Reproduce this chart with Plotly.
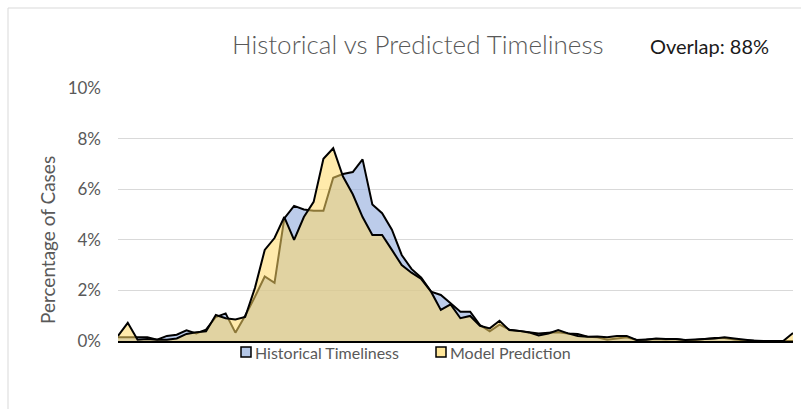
import plotly.graph_objects as go

# Timeliness bins (no labels shown on the x axis)
bins = list(range(70))

historical = [0.15, 0.15, 0.15, 0.15, 0.05, 0.20, 0.25, 0.42, 0.30, 0.45,
              0.95, 1.09, 0.33, 1.00, 1.75, 2.55, 2.30, 4.85, 5.34, 5.20,
              5.15, 5.15, 6.45, 6.60, 6.68, 7.18, 5.40, 5.05, 4.40, 3.40,
              2.85, 2.50, 1.95, 1.82, 1.49, 1.16, 1.16, 0.63, 0.38, 0.65,
              0.45, 0.40, 0.36, 0.30, 0.33, 0.35, 0.30, 0.28, 0.17, 0.15,
              0.05, 0.10, 0.15, 0.04, 0.05, 0.08, 0.06, 0.08, 0.03, 0.04,
              0.08, 0.12, 0.12, 0.06, 0.03, 0.01, 0.00, 0.00, 0.00, 0.00]

model = [0.20, 0.72, 0.05, 0.08, 0.05, 0.05, 0.10, 0.28, 0.35, 0.38,
         1.03, 0.90, 0.85, 0.95, 2.10, 3.60, 4.07, 4.90, 4.00, 4.90,
         5.50, 7.20, 7.62, 6.50, 5.80, 4.90, 4.19, 4.19, 3.60, 3.00,
         2.70, 2.45, 1.95, 1.23, 1.45, 0.90, 0.99, 0.60, 0.50, 0.80,
         0.43, 0.40, 0.34, 0.22, 0.30, 0.43, 0.30, 0.20, 0.17, 0.18,
         0.15, 0.20, 0.20, 0.04, 0.05, 0.10, 0.08, 0.08, 0.04, 0.05,
         0.08, 0.10, 0.15, 0.10, 0.04, 0.01, 0.00, 0.00, 0.00, 0.32]

y_ticks = [0, 2, 4, 6, 8, 10]
y_tick_labels = ["0%", "2%", "4%", "6%", "8%", "10%"]

series_names = ["Historical Timeliness", "Model Prediction"]
title_text = "Historical vs Predicted Timeliness"
overlap_text = "Overlap: 88%"
y_title = "Percentage of Cases"

BLUE_FILL = "rgba(143,170,220,0.6)"
YELLOW_FILL = "rgba(255,217,102,0.55)"
BLUE_SWATCH = "#B4C7E7"
YELLOW_SWATCH = "#FFE699"
GRAY = "#595959"
FONT = "Lato"

W, H = 801, 409
L, R, T, B = 118, 8, 88, 68
PW, PH = W - L - R, H - T - B

fig = go.Figure()
fig.add_trace(go.Scatter(x=bins, y=historical, mode="lines", fill="tozeroy",
                         fillcolor=BLUE_FILL, line=dict(color="black", width=2),
                         name=series_names[0], showlegend=False, hoverinfo="skip"))
fig.add_trace(go.Scatter(x=bins, y=model, mode="lines", fill="tozeroy",
                         fillcolor=YELLOW_FILL, line=dict(color="black", width=2),
                         name=series_names[1], showlegend=False, hoverinfo="skip"))

fig.update_layout(
    width=W, height=H,
    margin=dict(l=L, r=R, t=T, b=B, autoexpand=False),
    paper_bgcolor="white", plot_bgcolor="white",
    font=dict(family=FONT, color=GRAY),
    xaxis=dict(range=[0, len(bins) - 1], showgrid=False, zeroline=False,
               showticklabels=False, ticks="", showline=True,
               linecolor="black", linewidth=2, automargin=False),
    yaxis=dict(range=[0, 10], tickvals=y_ticks, ticktext=y_tick_labels,
               showgrid=True, gridcolor="#D9D9D9", gridwidth=1,
               zeroline=False, showline=False, ticks="",
               tickfont=dict(family=FONT, size=17, color=GRAY),
               ticklabelstandoff=16, automargin=False),
)

def px_x(p):
    return (p - L) / PW

def px_y(p):
    return (H - B - p) / PH

annos = [
    dict(text=title_text, x=px_x(418), y=px_y(44), font=dict(size=26, color=GRAY, family=FONT, weight=300)),
    dict(text=overlap_text, x=px_x(709), y=px_y(46), font=dict(size=20, color="#1a1a1a", family=FONT)),
    dict(text=y_title, x=px_x(47), y=px_y(240), textangle=-90, font=dict(size=19, color=GRAY, family=FONT)),
]
for a in annos:
    a.update(xref="paper", yref="paper", showarrow=False, xanchor="center", yanchor="middle")
    fig.add_annotation(**a)

# border of the chart area
fig.add_shape(type="rect", xref="paper", yref="paper", x0=px_x(8), x1=px_x(820), y0=px_y(430), y1=px_y(8),
              line=dict(color="#D9D9D9", width=1), fillcolor="rgba(0,0,0,0)", layer="below")

# legend items
legend_items = [(series_names[0], BLUE_SWATCH, 241), (series_names[1], YELLOW_SWATCH, 436)]
for name, col, sx in legend_items:
    fig.add_shape(type="rect", xref="paper", yref="paper",
                  x0=px_x(sx), x1=px_x(sx + 10), y0=px_y(357), y1=px_y(347),
                  line=dict(color="black", width=1.5), fillcolor=col)
    fig.add_annotation(text=name, xref="paper", yref="paper", x=px_x(sx + 12), y=px_y(352),
                       xanchor="left", yanchor="middle", showarrow=False,
                       font=dict(size=16, color=GRAY, family=FONT))

fig.write_html("out.html", config={"displayModeBar": False},
               post_script="document.body.style.margin='0';")
